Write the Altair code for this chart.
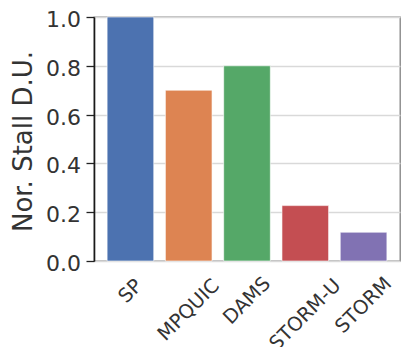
import altair as alt
import pandas as pd

# Normalised stall duration per scheduler
methods = ["SP", "MPQUIC", "DAMS", "STORM-U", "STORM"]
stall_du = [1.0, 0.70, 0.80, 0.227, 0.118]
palette = ["#4C72B0", "#DD8452", "#55A868", "#C44E52", "#8172B3"]
y_ticks = [0.0, 0.2, 0.4, 0.6, 0.8, 1.0]

df = pd.DataFrame({"method": methods, "value": stall_du})

W, H = 306, 244
FONT = "DejaVu Sans"
TXT = "#333333"
XFS = 19.5

x_scale = alt.Scale(domain=methods, paddingInner=0.2, paddingOuter=0.225)

bars = alt.Chart(df).mark_bar(stroke="white", strokeOpacity=0.6, strokeWidth=1).encode(
    x=alt.X(
        "method:N",
        sort=methods,
        scale=x_scale,
        axis=alt.Axis(
            title=None, labels=False, ticks=True, tickSize=6.5, tickWidth=1.3,
            tickColor="#222222", domainColor="#1a1a1a", domainWidth=1.6, grid=False,
        ),
    ),
    y=alt.Y(
        "value:Q",
        scale=alt.Scale(domain=[0, 1], nice=False, zero=True),
        axis=alt.Axis(
            values=y_ticks, format=".1f", title="Nor. Stall D.U.",
            labelFont=FONT, labelFontSize=22, labelColor=TXT, labelPadding=5.5,
            labelOffset=2.5, labelFlush=False, labelOverlap=False,
            tickSize=8, tickWidth=1.3, tickColor="#222222",
            domainColor="#1a1a1a", domainWidth=1.6,
            grid=True, gridColor="#d9d9d9", gridWidth=1.4,
            titleFont=FONT, titleFontSize=26, titleFontWeight="normal", titleColor=TXT,
            titleAngle=270, titleX=-62.3, titleY=124, titleAlign="center",
            titleBaseline="alphabetic",
        ),
    ),
    color=alt.Color("method:N", scale=alt.Scale(domain=methods, range=palette), legend=None),
)

# Rotated category labels, centred under each tick and dropped by half the
# height of the rotated label box (which grows with label length).
labels = alt.Chart(df).transform_calculate(
    ly=f"{H} + 20.9 + 4.69 * length(datum.method)"
).mark_text(
    angle=315, align="center", baseline="middle", font=FONT, fontSize=XFS, color=TXT
).encode(
    x=alt.X("method:N", sort=methods, scale=x_scale, axis=None),
    y=alt.Y("ly:Q", scale=None, axis=None),
    text="method:N",
)

chart = (
    alt.layer(bars, labels)
    .properties(
        width=W,
        height=H,
        autosize=alt.AutoSizeParams(type="none"),
        padding={"left": 94, "top": 17, "right": 2, "bottom": 86},
    )
    .configure_view(stroke="#808080", strokeWidth=1.3)
)

chart.save("out.html", embed_options={"renderer": "svg", "actions": False})
